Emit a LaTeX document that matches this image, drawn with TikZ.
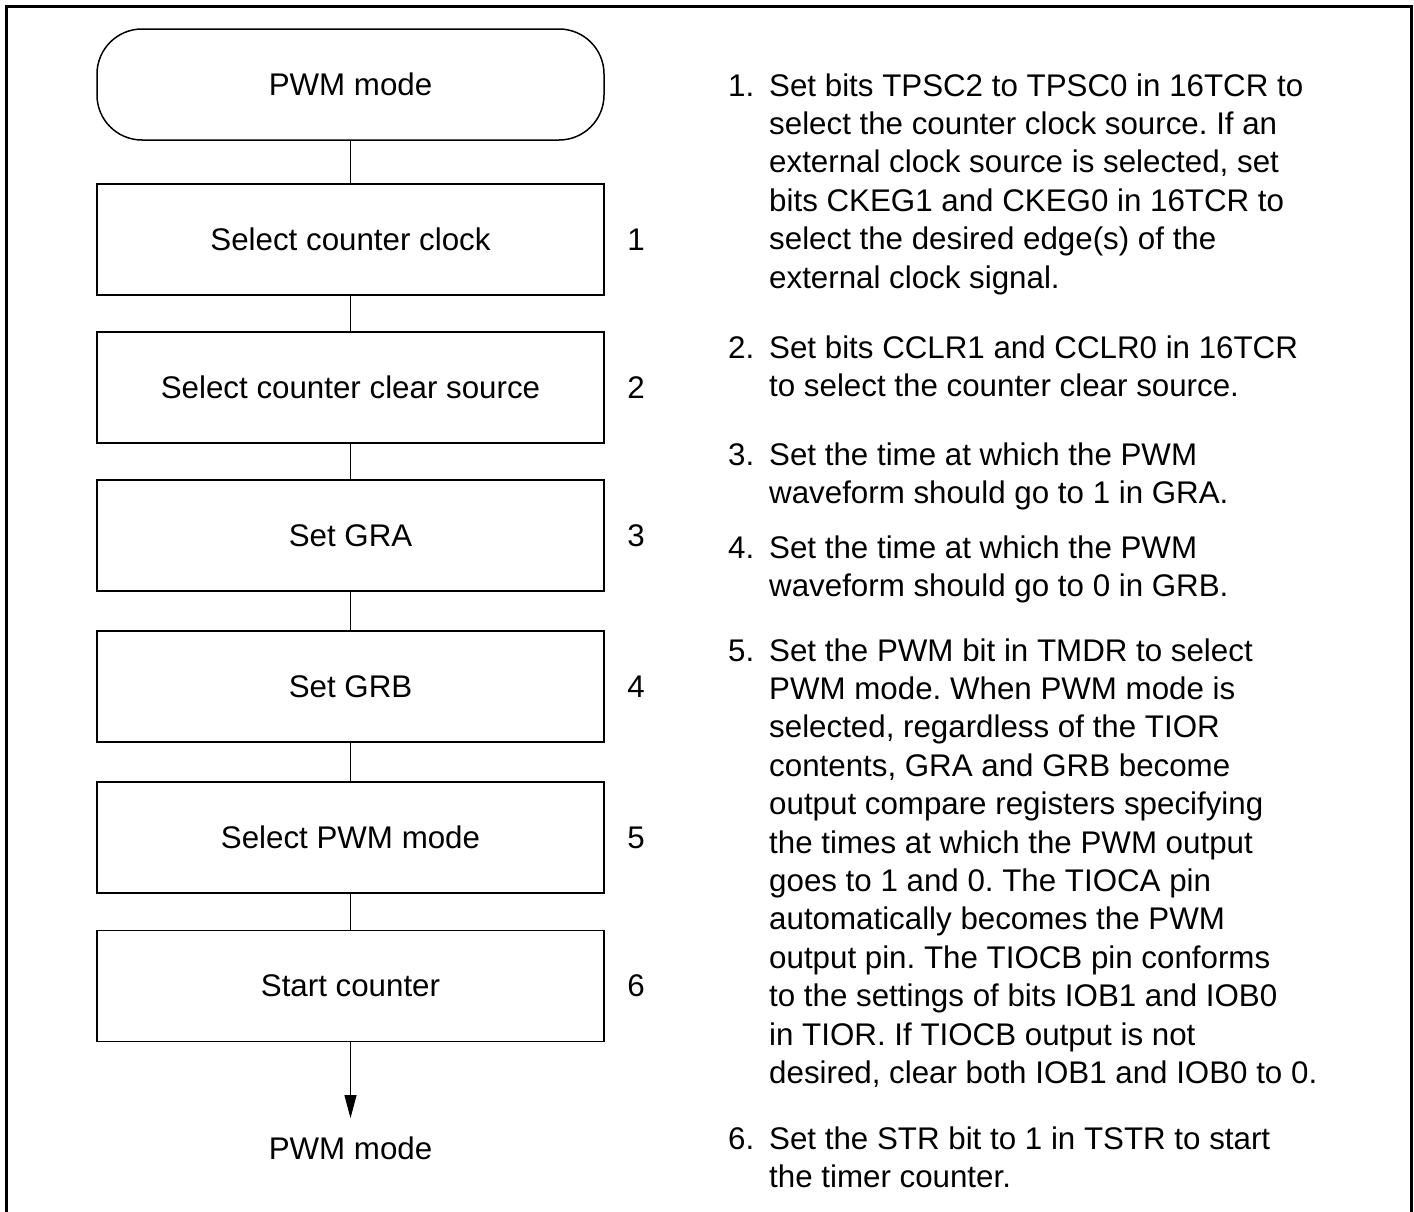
\documentclass[tikz,border=0pt]{standalone}
\usepackage{fontspec}
\setmainfont{Liberation Sans}
\usetikzlibrary{arrows.meta}
\frenchspacing
\newcommand{\itemno}[1]{\makebox[41pt][l]{#1}}
\begin{document}
\begin{tikzpicture}[x=1pt,y=-1pt,
  every node/.style={inner sep=0pt, font=\fontsize{31.3}{38.4}\selectfont},
  stepbox/.style={draw, line width=1.5pt, minimum width=507pt, minimum height=111pt},
  termbox/.style={stepbox, rounded corners=45pt},
  link/.style={line width=1pt},
  frameline/.style={line width=3pt},
  note/.style={anchor=base west}]
\useasboundingbox (0,0) rectangle (1414,1211);
\draw[frameline] (6,1212) -- (6,6) -- (1411,6) -- (1411,1212);

\node[termbox] (t) at (350.5,84.5) {PWM mode};
\node[stepbox] (b1) at (350.5,239.5) {Select counter clock};
\node[stepbox] (b2) at (350.5,387.5) {Select counter clear source};
\node[stepbox] (b3) at (350.5,535.5) {Set GRA};
\node[stepbox] (b4) at (350.5,686.5) {Set GRB};
\node[stepbox] (b5) at (350.5,837.5) {Select PWM mode};
\node[stepbox] (b6) at (350.5,986) {Start counter};
\node[anchor=base] (out) at (350.5,1159) {PWM mode};

\node (k1) at (636,239.5) {1};
\node (k2) at (636,387.5) {2};
\node (k3) at (636,535.5) {3};
\node (k4) at (636,686.5) {4};
\node (k5) at (636,837.5) {5};
\node (k6) at (636,986) {6};

\draw[link] (t) -- (b1);
\draw[link] (b1) -- (b2);
\draw[link] (b2) -- (b3);
\draw[link] (b3) -- (b4);
\draw[link] (b4) -- (b5);
\draw[link] (b5) -- (b6);
\draw[link, -{Triangle[length=23pt,width=12pt]}, shorten >=18pt] (b6.south) -- (out.north);

\node[note] (n1) at (728,96) {\begin{tabular}[t]{@{}l@{}l@{}}
\itemno{1.} & Set bits TPSC2 to TPSC0 in 16TCR to\\
 & select the counter clock source. If an\\
 & external clock source is selected, set\\
 & bits CKEG1 and CKEG0 in 16TCR to\\
 & select the desired edge(s) of the\\
 & external clock signal.
\end{tabular}};
\node[note] (n2) at (728,358) {\begin{tabular}[t]{@{}l@{}l@{}}
\itemno{2.} & Set bits CCLR1 and CCLR0 in 16TCR\\
 & to select the counter clear source.
\end{tabular}};
\node[note] (n3) at (728,465) {\begin{tabular}[t]{@{}l@{}l@{}}
\itemno{3.} & Set the time at which the PWM\\
 & waveform should go to 1 in GRA.
\end{tabular}};
\node[note] (n4) at (728,558) {\begin{tabular}[t]{@{}l@{}l@{}}
\itemno{4.} & Set the time at which the PWM\\
 & waveform should go to 0 in GRB.
\end{tabular}};
\node[note] (n5) at (728,661) {\begin{tabular}[t]{@{}l@{}l@{}}
\itemno{5.} & Set the PWM bit in TMDR to select\\
 & PWM mode. When PWM mode is\\
 & selected, regardless of the TIOR\\
 & contents, GRA and GRB become\\
 & output compare registers specifying\\
 & the times at which the PWM output\\
 & goes to 1 and 0. The TIOCA pin\\
 & automatically becomes the PWM\\
 & output pin. The TIOCB pin conforms\\
 & to the settings of bits IOB1 and IOB0\\
 & in TIOR. If TIOCB output is not\\
 & desired, clear both IOB1 and IOB0 to 0.
\end{tabular}};
\node[note] (n6) at (728,1149) {\begin{tabular}[t]{@{}l@{}l@{}}
\itemno{6.} & Set the STR bit to 1 in TSTR to start\\
 & the timer counter.
\end{tabular}};
\end{tikzpicture}
\end{document}
